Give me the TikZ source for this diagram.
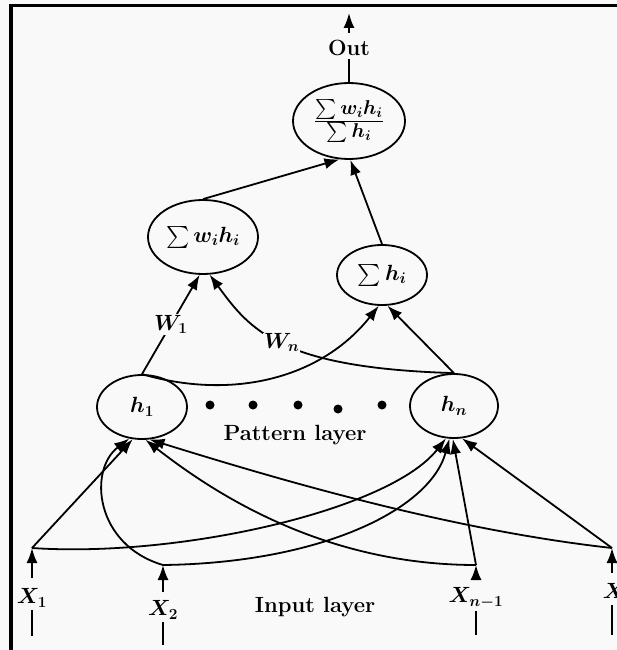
\documentclass[tikz,border=0pt]{standalone}
\usepackage{amsmath,amssymb}
\usepackage{fix-cm}
\usetikzlibrary{arrows.meta,shapes.geometric}
\definecolor{paper}{RGB}{249,249,249}

\begin{document}
\begin{tikzpicture}[x=1pt,y=-1pt,
  every node/.style={font=\fontsize{22}{26}\selectfont\bfseries\boldmath,inner sep=3pt},
  unit/.style={draw,ellipse,line width=1.8pt,inner sep=0pt},
  link/.style={->,>={Latex[length=15pt,width=11pt]},line width=1.8pt},
  wire/.style={line width=1.8pt}]
  \useasboundingbox (0,0) rectangle (617,650);
  \fill[paper] (0,0) rectangle (617,650);
  % Frame
  \draw[line width=3.5pt] (11,650) -- (11,5.5) -- (617,5.5);
  % Summation units
  \node[unit,minimum width=112pt,minimum height=76pt] (ratio) at (349,121)
    {\fontsize{20}{22}\selectfont$\frac{\textstyle\sum w_ih_i}{\textstyle\sum h_i}$};
  \node[unit,minimum width=110pt,minimum height=74pt] (sumwh) at (203,237) {$\sum w_ih_i$};
  \node[unit,minimum width=90pt,minimum height=60pt] (sumh) at (382,275) {$\sum h_i$};
  % Pattern layer
  \node[unit,minimum width=90pt,minimum height=64pt] (h1) at (142,407) {$h_1$};
  \node[unit,minimum width=88pt,minimum height=64pt] (hn) at (454,406) {$h_n$};
  \foreach \x/\y in {210/405,253/405,298/405,338/409,382/405}
    \fill (\x,\y) circle (4.5);
  \node (pattern) at (295,435) {Pattern layer};
  % Input layer
  \node (X1) at (32,598) {$X_1$};
  \node (X2) at (163,610) {$X_2$};
  \node (Xm) at (476,598) {$X_{n-1}$};
  \node (Xn) at (619,593) {$X_n$};
  \node (input) at (315,607) {Input layer};
  \coordinate (x1) at (32,548);
  \coordinate (x2) at (163,565);
  \coordinate (xm) at (476,565);
  \coordinate (xn) at (612,548);
  \coordinate (x1end) at (32,636);
  \coordinate (x2end) at (163,645);
  \coordinate (xmend) at (476,635);
  \coordinate (xnend) at (612,635);
  \draw[link,shorten <=8pt] (X1.north) -- (x1);
  \draw[link,shorten <=6pt] (X2.north) -- (x2);
  \draw[link,shorten <=6pt] (Xm.north) -- (xm);
  \draw[link,shorten <=8pt] (Xn.north -| xn) -- (xn);
  \draw[wire] (X1.south) -- (x1end);
  \draw[wire] (X2.south) -- (x2end);
  \draw[wire] (Xm.south) -- (xmend);
  \draw[wire] (Xn.south -| xn) -- (xnend);
  % Inputs to pattern units
  \draw[link] (x1) -- (h1.-106);
  \draw[link] (x2) .. controls (95,545) and (88,470) .. (h1.-112);
  \draw[link] (xm) .. controls (320,565) and (210,490) .. (h1.-84);
  \draw[link] (xn) .. controls (450,530) and (280,480) .. (h1.-77);
  \draw[link] (x1) .. controls (180,558) and (390,510) .. (hn.-104);
  \draw[link] (x2) .. controls (320,563) and (430,510) .. (hn.-98);
  \draw[link] (xm) -- (hn.-92);
  \draw[link] (xn) -- (hn.-76);
  % Pattern units to summation units
  \draw[link] (h1.north) -- node[fill=paper,inner sep=1pt] {$W_1$} (sumwh.-95);
  \draw[link] (hn.north) .. controls (280,368) and (250,330) .. node[pos=0.5,fill=paper,inner sep=1pt] {$W_n$} (sumwh.-80);
  \draw[link] (h1.north) .. controls (230,400) and (320,380) .. (sumh.-96);
  \draw[link] (hn.north) -- (sumh.-80);
  \draw[link] (sumwh.north) -- (ratio.-104);
  \draw[link] (sumh.north) -- (ratio.-88);
  % Output
  \node (out) at (349,48) {Out};
  \coordinate (top) at (349,13);
  \draw[wire] (ratio.north) -- (out.south);
  \draw[link,shorten <=4pt] (out.north) -- (top);
\end{tikzpicture}
\end{document}
